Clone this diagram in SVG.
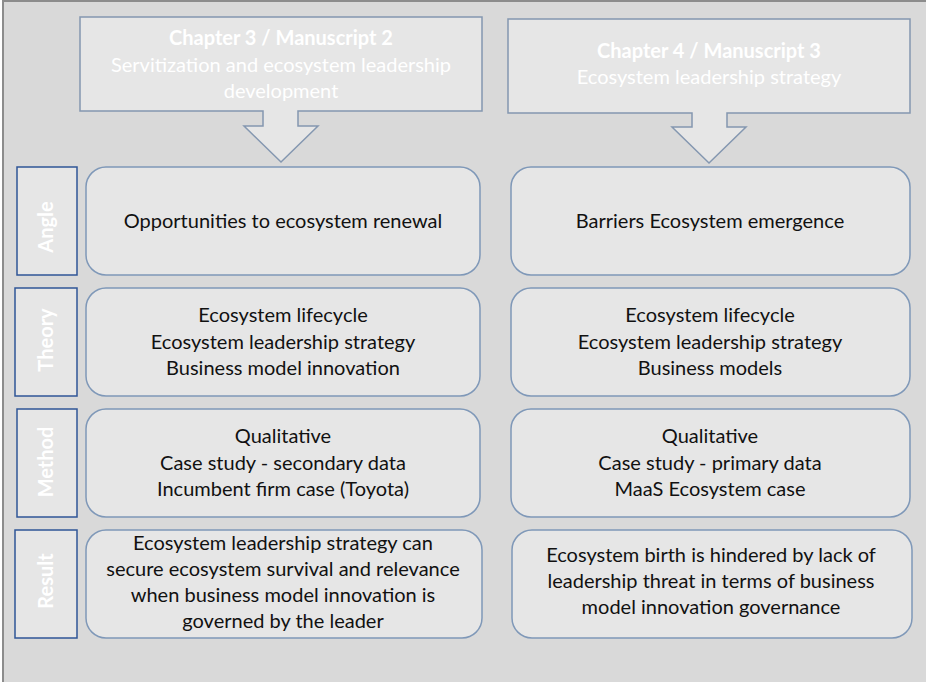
<svg xmlns="http://www.w3.org/2000/svg" width="926" height="682" viewBox="0 0 926 682">
<style>
.bg{fill:#d9d9d9;stroke:#8c8c8c;stroke-width:2}
.callout{fill:#e6e6e6;stroke:#8497b0;stroke-width:1.5}
.lab{fill:#e6e6e6;stroke:#2f5597;stroke-width:1.5}
.box{fill:#e6e6e6;stroke:#7f98b8;stroke-width:1.5}
.t{font-family:Lato,"Liberation Sans",sans-serif;font-size:20px;fill:#111;text-anchor:middle}
.h{font-family:Lato,"Liberation Sans",sans-serif;font-size:20px;fill:#fff;text-anchor:middle}
.hb{font-weight:bold}
.lt{font-family:Lato,"Liberation Sans",sans-serif;font-size:20px;font-weight:bold;fill:#fff;text-anchor:middle}
</style>
<rect class="bg" x="3" y="1" width="940" height="700"/>
<g id="callout-ch3">
<path class="callout" d="M80,17 H482 V111 H298 V126 H318 L281,162 L244,126 H263 V111 H80 Z"/>
<text class="h hb" x="281" y="45">Chapter 3 / Manuscript 2</text>
<text class="h" x="281" y="72">Servitization and ecosystem leadership</text>
<text class="h" x="281" y="98">development</text>
</g>
<g id="callout-ch4">
<path class="callout" d="M508,19 H910 V113 H727 V127 H746 L709,163 L672,127 H692 V113 H508 Z"/>
<text class="h hb" x="709" y="58">Chapter 4 / Manuscript 3</text>
<text class="h" x="709" y="84">Ecosystem leadership strategy</text>
</g>
<g id="label-angle">
<rect class="lab" x="17" y="167" width="60" height="108"/>
<text class="lt" transform="translate(53,227) rotate(-90)">Angle</text>
</g>
<g id="label-theory">
<rect class="lab" x="15" y="288" width="62" height="108"/>
<text class="lt" transform="translate(53,340) rotate(-90)">Theory</text>
</g>
<g id="label-method">
<rect class="lab" x="17" y="409" width="60" height="108"/>
<text class="lt" transform="translate(53,462) rotate(-90)">Method</text>
</g>
<g id="label-result">
<rect class="lab" x="15" y="530" width="62" height="108"/>
<text class="lt" transform="translate(53,581) rotate(-90)">Result</text>
</g>
<g id="angle-left">
<rect class="box" x="86" y="167" width="394" height="108" rx="20"/>
<text class="t" x="283" y="228">Opportunities to ecosystem renewal</text>
</g>
<g id="angle-right">
<rect class="box" x="511" y="167" width="399" height="108" rx="20"/>
<text class="t" x="710" y="228">Barriers Ecosystem emergence</text>
</g>
<g id="theory-left">
<rect class="box" x="86" y="288" width="394" height="108" rx="20"/>
<text class="t" x="283" y="322">Ecosystem lifecycle</text>
<text class="t" x="283" y="349">Ecosystem leadership strategy</text>
<text class="t" x="283" y="375">Business model innovation</text>
</g>
<g id="theory-right">
<rect class="box" x="511" y="288" width="399" height="108" rx="20"/>
<text class="t" x="710" y="322">Ecosystem lifecycle</text>
<text class="t" x="710" y="349">Ecosystem leadership strategy</text>
<text class="t" x="710" y="375">Business models</text>
</g>
<g id="method-left">
<rect class="box" x="86" y="409" width="394" height="108" rx="20"/>
<text class="t" x="283" y="443">Qualitative</text>
<text class="t" x="283" y="470">Case study - secondary data</text>
<text class="t" x="283" y="496">Incumbent firm case (Toyota)</text>
</g>
<g id="method-right">
<rect class="box" x="511" y="409" width="399" height="108" rx="20"/>
<text class="t" x="710" y="443">Qualitative</text>
<text class="t" x="710" y="470">Case study - primary data</text>
<text class="t" x="710" y="496">MaaS Ecosystem case</text>
</g>
<g id="result-left">
<rect class="box" x="86" y="530" width="396" height="108" rx="20"/>
<text class="t" x="283" y="550">Ecosystem leadership strategy can</text>
<text class="t" x="283" y="576">secure ecosystem survival and relevance</text>
<text class="t" x="283" y="602">when business model innovation is</text>
<text class="t" x="283" y="628">governed by the leader</text>
</g>
<g id="result-right">
<rect class="box" x="512" y="530" width="400" height="108" rx="20"/>
<text class="t" x="711" y="562">Ecosystem birth is hindered by lack of</text>
<text class="t" x="711" y="588">leadership threat in terms of business</text>
<text class="t" x="711" y="614">model innovation governance</text>
</g>
<g id="connectors"></g>
</svg>
